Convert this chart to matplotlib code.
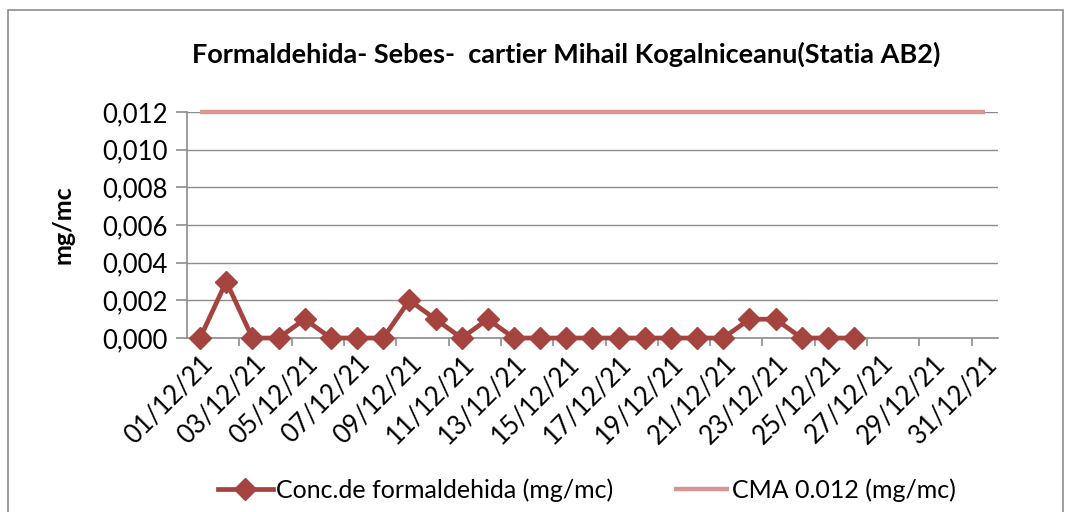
import matplotlib
matplotlib.use("Agg")
import matplotlib.pyplot as plt
from matplotlib.patches import Rectangle
from matplotlib.ticker import FuncFormatter

# data
days = list(range(1, 27))
conc = [0, 0.003, 0, 0, 0.001, 0, 0, 0, 0.002, 0.001, 0, 0.001, 0,
        0, 0, 0, 0, 0, 0, 0, 0, 0.001, 0.001, 0, 0, 0]
cma_days = list(range(1, 32))
cma = [0.012] * len(cma_days)
label_days = list(range(1, 32, 2))
tick_labels = ['%02d/12/21' % d for d in label_days]

plt.rcParams['font.family'] = ['Lato', 'DejaVu Sans']

fig = plt.figure(figsize=(10.73, 5.12), dpi=100)
ax = fig.add_axes([0.1743, 0.3398, 0.7557, 0.4415])

# chenar
fig.patches.append(Rectangle((8 / 1073, -0.01), 1055 / 1073, 1 - 10 / 512 + 0.01,
                             transform=fig.transFigure, fill=False,
                             edgecolor='#8c8c8c', linewidth=1.2))

ax.plot(cma_days, cma, color='#d99594', linewidth=3.2, label='CMA 0.012 (mg/mc)',
        zorder=3, clip_on=False, solid_capstyle='butt')
ax.plot(days, conc, color='#a5443f', linewidth=3.4, marker='D', markersize=11,
        label='Conc.de formaldehida (mg/mc)', zorder=4, clip_on=False)

ax.set_xlim(0.5, 31.5)
ax.set_ylim(0, 0.012)
ax.set_yticks([0, 0.002, 0.004, 0.006, 0.008, 0.010, 0.012])
ax.yaxis.set_major_formatter(FuncFormatter(lambda v, p: ('%.3f' % v).replace('.', ',')))
ax.grid(axis='y', color='#8c8c8c', linewidth=1)
ax.set_axisbelow(True)

# etichete la zile impare, tick-uri intre ele
ax.set_xticks(label_days)
ax.set_xticklabels(tick_labels, rotation=45, ha='right', rotation_mode='anchor', fontsize=18.5)
ax.tick_params(axis='x', which='major', length=0, pad=9)
ax.set_xticks([d + 0.5 for d in range(2, 31, 2)], minor=True)
ax.tick_params(axis='x', which='minor', length=6, color='#8c8c8c', width=1.2, direction='out')
ax.tick_params(axis='y', length=8, color='#8c8c8c', width=1.2, labelsize=18.5, pad=6)

for s in ['top', 'right']:
    ax.spines[s].set_visible(False)
for s in ['left', 'bottom']:
    ax.spines[s].set_color('#8c8c8c')
    ax.spines[s].set_linewidth(1.2)

ax.set_ylabel('mg/mc', fontsize=18, fontweight='bold', labelpad=20)
fig.text(0.528, 0.893, 'Formaldehida- Sebes-  cartier Mihail Kogalniceanu(Statia AB2)',
         ha='center', va='center', fontsize=19.5, fontweight='bold')

h, l = ax.get_legend_handles_labels()
fig.legend(h[::-1], l[::-1], loc='center', bbox_to_anchor=(0.547, 0.043), ncol=2,
           frameon=False, fontsize=18, handlelength=2.2, handletextpad=0.15,
           columnspacing=2.4)

fig.savefig('out.png', dpi=100)
